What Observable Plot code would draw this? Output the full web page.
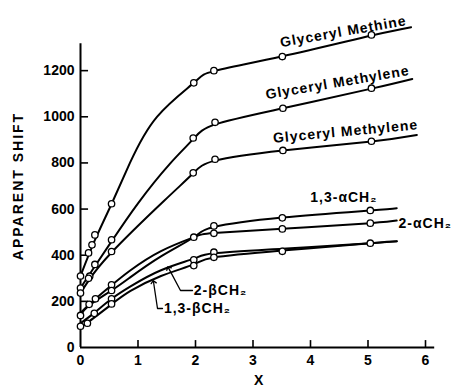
<!DOCTYPE html>
<html><head><meta charset="utf-8">
<script src="https://cdn.jsdelivr.net/npm/d3@7"></script>
<script src="https://cdn.jsdelivr.net/npm/@observablehq/plot@0.6"></script>
<style>
body{margin:0;background:#fff}
svg{display:block}
</style>
</head><body><div id="chart"></div>
<script>
// ---- data ----
const xTicks = [0, 1, 2, 3, 4, 5, 6];
const yTicks = [0, 200, 400, 600, 800, 1000, 1200];
const seriesNames = ["Glyceryl Methine", "Glyceryl Methylene A", "Glyceryl Methylene B", "2-αCH2", "1,3-αCH2", "2-βCH2", "1,3-βCH2"];

// smooth fitted curves (x, apparent shift)
const methineCurve = [[0,310],[0.25,465],[0.54,622],[0.86,800],[1.33,1000],[1.97,1147],[2.32,1198],[3.51,1262],[5.06,1352],[5.75,1388]];
const methyleneACurve = [[0,258],[0.25,352],[0.54,460],[1.0,625],[1.55,795],[1.96,903],[2.34,967],[3.52,1037],[5.06,1122],[5.77,1164]];
const methyleneBCurve = [[0,236],[0.14,290],[0.54,412],[1.45,635],[1.96,755],[2.34,810],[3.52,854],[5.06,893],[5.85,921]];
const alpha2Curve = [[0,150],[0.26,211],[0.54,270],[0.87,335],[1.4,418],[1.97,478],[2.32,496],[3.51,515],[5.04,539],[5.5,550]];
const alpha13Curve = [[0,139],[0.15,182],[0.54,247],[0.87,305],[1.4,395],[1.97,478],[2.32,522],[3.51,563],[5.04,594],[5.5,604]];
const beta2Curve = [[0,105],[0.24,150],[0.54,211],[0.87,265],[1.4,335],[1.97,385],[2.32,408],[3.51,428],[5.04,452],[5.5,460]];
const beta13Curve = [[0,92],[0.12,108],[0.54,187],[0.87,245],[1.4,310],[1.97,360],[2.32,390],[3.51,420],[5.04,452],[5.5,460]];

// measured points (open circles)
const methinePts = [[0,310],[0.14,410],[0.2,445],[0.25,488],[0.54,623],[1.97,1147],[2.32,1200],[3.51,1261],[5.06,1355]];
const methyleneAPts = [[0,258],[0.16,309],[0.25,360],[0.54,467],[1.96,908],[2.34,976],[3.52,1037],[5.06,1124]];
const methyleneBPts = [[0,236],[0.14,300],[0.54,416],[1.96,757],[2.34,816],[3.52,854],[5.06,894]];
const alpha2Pts = [[0.26,211],[0.54,272],[1.97,478],[2.32,495],[3.51,514],[5.04,539]];
const alpha13Pts = [[0,139],[0.15,187],[0.54,247],[2.32,527],[3.51,562],[5.04,594]];
const beta2Pts = [[0.24,148],[0.54,211],[1.97,380],[2.32,413]];
const beta13Pts = [[0,92],[0.12,105],[0.54,189],[1.97,355],[2.32,391],[3.51,417],[5.04,452]];

// curve labels
const labelText = ["Glyceryl Methine", "Glyceryl Methylene", "Glyceryl Methylene", "1,3-αCH₂", "2-αCH₂", "2-βCH₂", "1,3-βCH₂"];
const labelX = [4.57, 4.47, 4.61, 4.58, 5.53, 1.97, 1.45];
const labelY = [1369, 1148, 936, 650, 537, 247, 169];
const labelAngle = [-10, -9.7, -5.3, 0, 0, 0, 0];
const labelAnchor = ["middle", "middle", "middle", "middle", "start", "start", "start"];
// leader arrows for the beta labels
const leader2b = [[1.948,247],[1.739,247],[1.53,345]];
const leader13b = [[1.426,169],[1.339,169],[1.27,284]];

// ---- build tables ----
const curves = [methineCurve, methyleneACurve, methyleneBCurve, alpha2Curve, alpha13Curve, beta2Curve, beta13Curve];
const pts = [methinePts, methyleneAPts, methyleneBPts, alpha2Pts, alpha13Pts, beta2Pts, beta13Pts];
const lineData = curves.flatMap((c, i) => c.map(([x, y]) => ({x, y, s: seriesNames[i]})));
const dotData = pts.flatMap((c, i) => c.map(([x, y]) => ({x, y, s: seriesNames[i]})));
const labels = labelText.map((t, i) => ({t, x: labelX[i], y: labelY[i], a: labelAngle[i], anchor: labelAnchor[i]}));
const leaders = [leader2b, leader13b].flatMap((c, i) => c.map(([x, y]) => ({x, y, k: i})));

const plot = Plot.plot({
  width: 453, height: 388,
  marginLeft: 80, marginRight: 16.5, marginTop: 24, marginBottom: 41,
  x: {domain: [0, 6.2]},
  y: {domain: [0, 1400]},
  style: {fontFamily: "'Liberation Sans', Arial, sans-serif", background: "#fff", color: "#000"},
  marks: [
    Plot.ruleY([0], {x1: 0, x2: 6.16, strokeWidth: 2}),
    Plot.ruleX([0], {y1: 0, y2: 1317, strokeWidth: 2}),
    Plot.ruleX(xTicks.slice(1), {x: d => d, y1: 0, y2: 30, strokeWidth: 1.6}),
    Plot.ruleY(yTicks.slice(1), {y: d => d, x1: 0, x2: 0.14, strokeWidth: 1.6}),
    Plot.axisX({ticks: xTicks, tickSize: 0, tickPadding: 8, fontSize: 14, tickFormat: d => String(d), label: "X", labelAnchor: "center", labelArrow: "none", labelOffset: 37}),
    Plot.axisY({ticks: yTicks, tickSize: 0, tickPadding: 6, fontSize: 14, tickFormat: d => String(d), label: "APPARENT SHIFT", labelAnchor: "center", labelArrow: "none", labelOffset: 67}),
    Plot.line(lineData, {x: "x", y: "y", z: "s", curve: "natural", stroke: "black", strokeWidth: 2}),
    Plot.dot(dotData, {x: "x", y: "y", r: 3.2, fill: "white", stroke: "black", strokeWidth: 1.3}),
    Plot.line(leaders, {x: "x", y: "y", z: "k", stroke: "black", strokeWidth: 1.3, markerEnd: "arrow"}),
    Plot.text(labels.filter(d => d.anchor === "middle"), {x: "x", y: "y", text: "t", rotate: "a", textAnchor: "middle", fontSize: 14, fontWeight: "bold", fill: "black"}),
    Plot.text(labels.filter(d => d.anchor === "start"), {x: "x", y: "y", text: "t", textAnchor: "start", fontSize: 14, fontWeight: "bold", fill: "black"})
  ]
});
document.getElementById("chart").appendChild(plot);
// typographic touches
plot.querySelectorAll('g[aria-label="x-axis tick label"] text, g[aria-label="y-axis tick label"] text, g[aria-label="x-axis label"] text').forEach(t => { t.style.fontWeight = "bold"; });
plot.querySelectorAll('g[aria-label="y-axis label"] text').forEach(t => { t.style.fontWeight = "bold"; t.style.fontSize = "14px"; t.style.letterSpacing = "2px"; });
plot.querySelectorAll('g[aria-label="text"] text').forEach(t => { t.style.letterSpacing = "1px"; });
</script>
</body></html>
